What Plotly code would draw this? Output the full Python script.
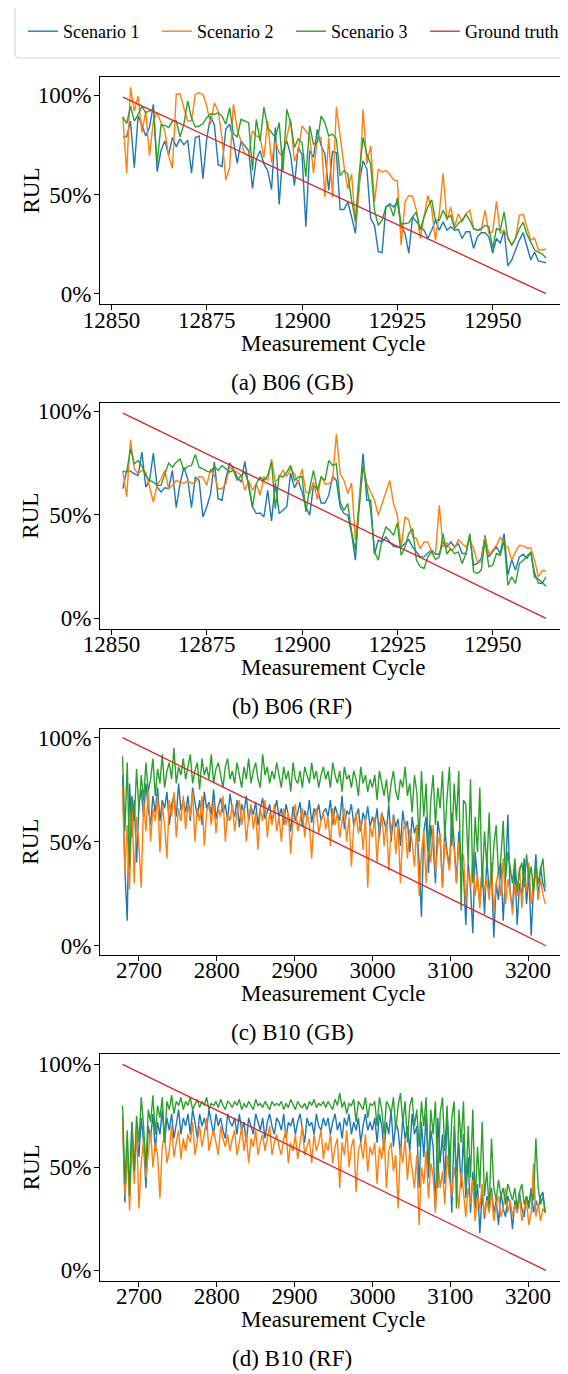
import plotly.graph_objects as go

# ---------------- data ----------------
b06_cycles = list(range(12853, 12965))
b10_cycles = list(range(2679, 3223, 3))

gt_b06_x = [12853, 12964]
gt_b06_y = [99.1, 0.0]
gt_b10_x = [2679, 3223]
gt_b10_y = [100.0, 0.0]

b06_gb_s1 = [79, 79, 87, 63.5, 89.5, 85, 79.5, 84, 95.4, 61.5, 72, 77, 70, 78.7, 74, 78, 75, 77.4, 60.7, 78.7,
             79.5, 58, 78, 89.5, 85, 65, 64, 83, 85.4, 77, 65.7, 77, 74.5, 72, 53, 67.8, 72, 65.4, 62, 52.4,
             83.7, 45, 72, 77, 70, 54.5, 73.7, 70, 33.7, 72, 68.7, 82.8, 74.5, 70.4, 52, 71.7, 71, 42.4, 42.4, 46.2,
             38.7, 30.4, 55.4, 67, 62.8, 37.9, 34.5, 21.2, 20.7, 43.7, 45.4, 43.7, 46.2, 33.7, 30.4, 20.4, 38.7, 36.2, 33.7, 32,
             27.8, 32, 37, 32, 36.2, 32, 33.7, 32, 32.3, 27.8, 31.2, 31.2, 22.8, 28.7, 30.7, 30.7, 28.7, 20.4, 27.8, 25.4,
             32, 14, 17, 22, 27, 30.7, 24, 17, 21, 16.5, 16, 15.5]
b06_gb_s2 = [89.2, 60.7, 104, 92, 99.5, 81.2, 92, 69.5, 87, 91.2, 86.2, 82, 69.5, 63.2, 100.4, 100.7, 93.7, 87, 87, 100.4,
             101.2, 100.4, 94.5, 85.4, 96.2, 92, 78.7, 57.3, 63.7, 95.4, 82.8, 77, 70.4, 69.5, 82, 79.5, 78.7, 68.7, 87, 66.2,
             77, 71, 68.7, 78.7, 87.9, 66.7, 72, 84.5, 82, 79.5, 60.7, 78, 78.7, 48.7, 78.7, 48.7, 94, 78, 64.5, 52.8,
             60.3, 35.4, 52.8, 92.9, 65.4, 74.5, 46.2, 62.8, 61.2, 62, 60.3, 57.3, 57, 24.5, 46.2, 49.5, 49, 42, 27.8, 38.7,
             49.5, 42.8, 27, 40.3, 60.7, 37, 43.7, 33.7, 40.3, 36.2, 40.3, 42, 32.8, 32, 32, 42, 30.4, 31.2, 46.5, 30.4,
             32, 28.7, 24.5, 27.8, 39.5, 40, 34, 27, 28, 22, 22, 22.5]
b06_gb_s3 = [89, 85.7, 94.5, 87, 90.3, 94.5, 91.2, 92, 92.9, 65.7, 85, 84.8, 83.7, 87, 87, 79, 85.4, 97, 88.7, 84,
             84.5, 85.7, 88.7, 90.7, 90.3, 91.2, 89.5, 85.4, 93.7, 80.4, 79, 87.9, 87, 86.2, 62, 87.9, 77, 94, 83.7, 81.2,
             78.7, 86.2, 62, 92.9, 86.2, 73.7, 78, 76, 59, 84.5, 75.4, 76.2, 89.5, 86.2, 79.5, 80.4, 78, 59.5, 62, 60.3,
             47, 37, 60.3, 78.7, 70.4, 65.4, 42, 34.5, 37, 43.7, 44.5, 39, 48.3, 35, 35.4, 35.7, 38.7, 41.2, 32, 38.7,
             43.7, 47.3, 37, 37, 42, 37.9, 39.5, 32.8, 35.4, 37, 40, 37, 32.8, 32, 32.8, 34.5, 33.7, 22.8, 32.8, 32,
             41.2, 27.8, 24.5, 27.8, 32.8, 36, 30, 26, 22, 21, 20, 18]

b06_rf_s1 = [62.6, 71.4, 71.1, 69.8, 69, 80.3, 63.4, 66.6, 79.8, 63.4, 61, 63, 62.6, 71.4, 53.5, 65, 73, 67.4, 53.5, 68.2,
             66.6, 49, 53.8, 60.2, 75.4, 57.8, 57, 67.4, 75, 72.2, 68.2, 65.8, 75.8, 63.4, 53.8, 50.6, 50.9, 49, 61.8, 47,
             65.3, 50.6, 52.2, 54, 70.1, 63, 66.6, 61, 53.8, 49.8, 64.2, 62.6, 55.7, 55.7, 59.4, 68.5, 66.6, 53.8, 50.6, 49.8,
             40.9, 28.1, 57, 79.5, 57, 57, 31, 37.7, 36.9, 39.3, 36.9, 34.8, 34.5, 34.5, 36.1, 38, 34.5, 32.1, 29.7, 29.7,
             31.6, 32.9, 31, 31, 36.9, 34.5, 36.9, 34.5, 36.1, 31.3, 31.3, 40.1, 25.7, 26.5, 28.9, 40.1, 29.7, 32.1, 34.5, 31.3,
             40.9, 20.9, 28.4, 23.3, 29.7, 31, 29, 32, 20, 19, 17, 15.5]
b06_rf_s2 = [71.1, 58.6, 86.2, 72.2, 69.8, 71.4, 70.6, 62.6, 56.2, 64.2, 67.4, 71.4, 62.6, 64.2, 66.6, 65.8, 65, 66.6, 65, 65.8,
             68.5, 68.2, 64.2, 72.2, 69, 62.6, 62.6, 65, 73, 71.4, 70.6, 69, 61.8, 66.6, 61.8, 65, 59.4, 68.2, 66.6, 76.9,
             65.8, 68.2, 71.4, 68.5, 72.2, 69.8, 65, 72.2, 61, 60.2, 65.8, 57.3, 68.5, 65, 65, 66.6, 89, 69.8, 66.6, 60.2,
             65.3, 37.7, 57, 73.8, 65, 61, 57, 49.8, 55.4, 61.8, 66.6, 55.4, 49.8, 34.5, 49, 47.4, 39.3, 38.5, 33.7, 36.9,
             36.9, 32.1, 31, 54.6, 34.5, 36.4, 32.9, 33.7, 38, 36.1, 34.5, 37.7, 33.7, 27.3, 27.3, 39.3, 30.5, 32.9, 35.3, 39.3,
             35.3, 34.5, 28.1, 32.1, 35.3, 35, 34, 34, 28, 20, 23, 23]
b06_rf_s3 = [71.1, 70.6, 81.9, 74.6, 76.2, 73.4, 69, 66.6, 65.8, 64.2, 64.2, 70.1, 75, 73, 75.4, 77, 71.4, 73.4, 73.8, 79.1,
             73, 72.2, 71.1, 70.6, 73.4, 71.4, 73.8, 72.2, 70.6, 71.4, 66.6, 69, 70.6, 65, 53.8, 65, 68.2, 66.6, 69, 75.4,
             53, 69, 68.2, 70.6, 73.8, 66.6, 68.2, 68.5, 51.4, 62.6, 71.4, 61.8, 68.2, 66.6, 76.2, 73.8, 74.6, 56.2, 52.2, 55.4,
             41.7, 32.9, 55.4, 73.8, 63.4, 52.2, 32.1, 28.1, 38.5, 44.1, 42.5, 40.1, 46.1, 30.5, 34.5, 40.9, 43.3, 28.1, 24.9, 24.1,
             29.7, 32.1, 28.4, 29.7, 40.9, 31, 33.7, 31.3, 32.1, 26.5, 31.3, 40.9, 22.5, 21.7, 23.3, 37.7, 24.9, 25.7, 31.3, 30.5,
             37.7, 16, 20.1, 16.9, 26.5, 28, 30, 32, 22, 17, 17, 20]

b10_gb_s1 = [82, 36, 12, 78, 52, 70, 40,
             68, 75, 62, 78, 66, 58, 72, 64, 76, 60, 70, 66, 74, 58, 68, 72, 62, 78, 65, 70,
             64, 72, 60, 76, 68, 62, 70, 58, 74, 66, 69, 63, 75, 61, 67, 71, 64, 68, 60, 73,
             66, 62, 70, 57, 68, 64, 72, 60, 67, 63, 69, 58, 66, 71, 61, 65, 68, 59, 64, 70,
             62, 66, 58, 68, 63, 55, 67, 60, 64, 69, 57, 65, 61, 70, 59, 66, 63, 68, 60, 64,
             66, 62, 70, 58, 67, 64, 60, 72, 56, 65, 63, 68, 58, 62, 66, 55, 64, 60, 67, 57,
             62, 58, 66, 52, 64, 60, 55, 68, 50, 63, 57, 61, 48, 65, 56, 60, 45, 62, 54, 58,
             40, 14, 55, 62, 35, 58, 48, 30, 60, 52, 28, 56, 45, 38, 64, 50, 30, 55, 42, 35,
             10, 40, 28, 6, 45, 32, 20, 38, 15, 42, 26, 35, 4, 30, 22, 40, 12, 34, 63, 25,
             18, 38, 10, 30, 24, 42, 20, 35, 5, 28, 44, 22, 38, 30, 26]
b10_gb_s2 = [76, 35, 58, 27, 72, 30, 62,
             48, 28, 70, 55, 75, 50, 66, 60, 72, 45, 68, 58, 42, 70, 62, 74, 52, 66, 60, 72,
             56, 68, 62, 74, 50, 66, 60, 72, 48, 64, 68, 58, 70, 54, 66, 62, 72, 50, 64, 60,
             68, 55, 64, 70, 58, 66, 50, 62, 68, 56, 64, 46, 66, 60, 70, 52, 64, 58, 68, 55,
             62, 50, 66, 58, 64, 44, 62, 68, 55, 60, 66, 52, 64, 58, 42, 62, 66, 54, 60, 64,
             56, 62, 48, 66, 58, 64, 52, 60, 66, 50, 62, 38, 58, 64, 54, 60, 46, 62, 28, 58,
             52, 62, 40, 58, 64, 48, 60, 36, 56, 62, 44, 58, 30, 54, 60, 42, 56, 50, 38, 58,
             24, 45, 55, 30, 52, 40, 58, 35, 48, 54, 28, 50, 42, 36, 55, 46, 30, 50, 38, 44,
             20, 36, 28, 42, 24, 34, 18, 38, 26, 32, 22, 40, 16, 30, 36, 24, 42, 20, 32, 26,
             15, 30, 24, 38, 18, 34, 26, 40, 20, 28, 36, 22, 32, 25, 20]
b10_gb_s3 = [91, 55, 88, 38, 72, 60, 85,
             65, 82, 70, 88, 74, 80, 90, 72, 85, 78, 92, 76, 84, 88, 80, 95, 78, 86, 82, 90,
             80, 86, 92, 78, 84, 88, 75, 90, 82, 86, 80, 92, 78, 85, 88, 82, 76, 86, 90, 80,
             84, 78, 88, 82, 76, 86, 80, 90, 78, 84, 88, 80, 76, 92, 82, 86, 78, 84, 80, 88,
             82, 76, 86, 80, 84, 74, 88, 80, 78, 84, 76, 86, 82, 78, 88, 80, 84, 76, 82, 86,
             80, 84, 76, 88, 82, 78, 84, 74, 86, 80, 82, 76, 84, 80, 72, 86, 78, 82, 74, 80,
             76, 82, 70, 84, 78, 72, 80, 68, 78, 84, 74, 70, 80, 76, 86, 72, 78, 64, 82, 74,
             50, 84, 62, 78, 45, 70, 82, 58, 76, 66, 84, 52, 72, 86, 48, 78, 60, 84, 17, 70,
             68, 40, 80, 30, 62, 45, 76, 28, 55, 38, 64, 30, 48, 58, 34, 42, 60, 32, 45, 38,
             30, 42, 26, 36, 40, 28, 44, 32, 38, 25, 40, 30, 36, 42, 28]

b10_rf_s1 = [75, 33, 60, 40, 72, 48, 68,
             55, 74, 62, 40, 70, 64, 76, 58, 72, 66, 78, 62, 74, 68, 76, 64, 72, 78, 66, 74,
             70, 76, 66, 78, 72, 64, 76, 70, 74, 68, 78, 72, 66, 76, 70, 74, 68, 64, 76, 72,
             70, 74, 66, 76, 68, 72, 62, 74, 70, 66, 76, 72, 68, 74, 64, 72, 76, 70, 66, 74,
             72, 68, 76, 64, 72, 70, 74, 66, 72, 76, 68, 62, 74, 70, 72, 66, 76, 70, 68, 74,
             70, 74, 66, 72, 76, 68, 72, 64, 74, 70, 76, 66, 72, 68, 74, 62, 70, 76, 68, 72,
             68, 74, 62, 76, 70, 58, 72, 66, 78, 60, 72, 68, 56, 74, 64, 70, 58, 76, 66, 70,
             40, 72, 55, 76, 45, 68, 60, 30, 74, 52, 66, 42, 75, 58, 28, 70, 48, 62, 40, 66,
             35, 55, 28, 48, 30, 42, 18, 38, 25, 36, 32, 40, 28, 34, 22, 38, 30, 26, 36, 32,
             20, 34, 28, 38, 30, 26, 36, 32, 40, 28, 34, 30, 36, 38, 28]
b10_rf_s2 = [74, 36, 58, 29, 62, 42, 70,
             30, 52, 64, 45, 58, 68, 50, 62, 56, 35, 60, 66, 52, 58, 70, 55, 62, 68, 54, 64,
             58, 66, 62, 72, 56, 64, 70, 60, 66, 74, 58, 64, 68, 62, 56, 70, 64, 60, 66, 58,
             64, 68, 56, 62, 70, 58, 66, 52, 64, 60, 68, 56, 62, 66, 58, 64, 70, 56, 62, 66,
             60, 56, 64, 68, 52, 62, 58, 66, 54, 62, 70, 56, 60, 64, 52, 66, 58, 62, 68, 54,
             62, 58, 66, 52, 60, 64, 40, 62, 56, 68, 50, 60, 64, 38, 58, 62, 54, 66, 48, 60,
             56, 62, 42, 60, 54, 66, 40, 58, 62, 48, 56, 30, 60, 52, 64, 44, 58, 50, 40, 56,
             22, 50, 42, 58, 35, 52, 46, 28, 54, 40, 48, 32, 56, 44, 36, 50, 42, 30, 48, 38,
             26, 40, 32, 44, 24, 36, 30, 42, 26, 34, 28, 38, 24, 32, 36, 26, 30, 40, 28, 34,
             26, 32, 28, 36, 24, 30, 34, 22, 28, 52, 26, 32, 24, 30, 28]
b10_rf_s3 = [80, 42, 68, 36, 72, 48, 75,
             62, 84, 70, 50, 78, 72, 85, 66, 80, 74, 84, 62, 82, 78, 85, 76, 82, 80, 84, 78,
             82, 80, 84, 78, 81, 83, 79, 82, 80, 84, 78, 81, 80, 82, 79, 83, 80, 78, 82, 81,
             79, 82, 80, 83, 78, 81, 79, 82, 80, 78, 83, 80, 81, 79, 82, 80, 78, 82, 80, 81,
             80, 82, 78, 81, 79, 83, 80, 78, 82, 80, 79, 81, 78, 82, 80, 83, 79, 81, 80, 82,
             79, 82, 80, 78, 83, 80, 86, 79, 82, 76, 81, 80, 83, 72, 82, 80, 78, 84, 74, 81,
             80, 82, 70, 84, 78, 66, 82, 80, 76, 84, 68, 80, 86, 72, 82, 62, 80, 84, 70, 78,
             60, 82, 70, 84, 50, 78, 66, 82, 40, 76, 84, 58, 80, 45, 74, 82, 30, 78, 62, 82,
             38, 70, 45, 78, 32, 60, 40, 72, 36, 48, 30, 64, 40, 34, 44, 36, 40, 32, 42, 38,
             34, 40, 30, 38, 42, 32, 36, 30, 38, 34, 64, 40, 32, 36, 28]

series_names = ["Scenario 1", "Scenario 2", "Scenario 3", "Ground truth"]
colors = ["#1f77b4", "#ff7f0e", "#2ca02c", "#d62728"]
captions = ["(a) B06 (GB)", "(b) B06 (RF)", "(c) B10 (GB)", "(d) B10 (RF)"]

panels = [
    (b06_cycles, [b06_gb_s1, b06_gb_s2, b06_gb_s3], gt_b06_x, gt_b06_y),
    (b06_cycles, [b06_rf_s1, b06_rf_s2, b06_rf_s3], gt_b06_x, gt_b06_y),
    (b10_cycles, [b10_gb_s1, b10_gb_s2, b10_gb_s3], gt_b10_x, gt_b10_y),
    (b10_cycles, [b10_rf_s1, b10_rf_s2, b10_rf_s3], gt_b10_x, gt_b10_y),
]

# ---------------- layout geometry ----------------
# The page body has an 8 px margin, so the figure is drawn 8 px smaller and
# all screen positions (measured on the reference) are shifted by 8 px.
OFF = 8
W, H = 568 - OFF, 1374 - OFF
FONT = "Liberation Serif"


def xp(p):
    return (p - OFF) / W


def yp(p):
    return 1 - (p - OFF) / H


frame_x = (100, 567)
frames_y = [(77, 304), (402.7, 628.7), (728.7, 954.7), (1054, 1280.7)]
x_ranges = [[12847.0, 12969.5], [12847.0, 12969.5], [2650, 3250], [2650, 3250]]
y_ranges = [[-5.2, 109.2], [-4.96, 104.1], [-4.3, 104.3], [-5.0, 105.0]]
x_ticks = [[12850, 12875, 12900, 12925, 12950]] * 2 + [[2700, 2800, 2900, 3000, 3100, 3200]] * 2

fig = go.Figure()
for i, (xs, ys_list, gx, gy) in enumerate(panels):
    ax = "" if i == 0 else str(i + 1)
    for j, ys in enumerate(ys_list):
        fig.add_trace(go.Scatter(
            x=xs, y=ys, mode="lines", name=series_names[j],
            line=dict(color=colors[j], width=1.4),
            xaxis="x" + ax, yaxis="y" + ax, showlegend=(i == 0)))
    fig.add_trace(go.Scatter(
        x=gx, y=gy, mode="lines", name=series_names[3],
        line=dict(color=colors[3], width=1.3),
        xaxis="x" + ax, yaxis="y" + ax, showlegend=(i == 0)))


def axis_common():
    return dict(showline=True, mirror=True, linecolor="black", linewidth=1,
                ticks="outside", ticklen=5, tickwidth=1, tickcolor="black",
                showgrid=False, zeroline=False,
                tickfont=dict(family=FONT, size=23, color="black"))


annotations = []
axes_layout = {}
for i in range(4):
    ax = "" if i == 0 else str(i + 1)
    top, bot = frames_y[i]
    axes_layout["xaxis" + ax] = dict(
        domain=[xp(frame_x[0]), xp(frame_x[1])], anchor="y" + ax,
        range=x_ranges[i], tickmode="array", tickvals=x_ticks[i],
        ticktext=[str(v) for v in x_ticks[i]], ticklabelstandoff=-10, **axis_common())
    axes_layout["yaxis" + ax] = dict(
        domain=[yp(bot), yp(top)], anchor="x" + ax,
        range=y_ranges[i], tickmode="array", tickvals=[0, 50, 100],
        ticktext=["0%", "50%", "100%"], ticklabelstandoff=-2, **axis_common())
    annotations.append(dict(text="Measurement Cycle", x=xp((frame_x[0] + frame_x[1]) / 2),
                            y=yp(bot + 39), xref="paper", yref="paper",
                            xanchor="center", yanchor="middle", showarrow=False,
                            font=dict(family=FONT, size=23, color="black")))
    annotations.append(dict(text="RUL", x=xp(31), y=yp((top + bot) / 2),
                            xref="paper", yref="paper", textangle=-90,
                            xanchor="center", yanchor="middle", showarrow=False,
                            font=dict(family=FONT, size=23, color="black")))
    annotations.append(dict(text=captions[i], x=xp(292), y=yp(bot + 78),
                            xref="paper", yref="paper", xanchor="center", yanchor="middle",
                            showarrow=False, font=dict(family=FONT, size=23, color="black")))

# rounded legend frame
x0, x1 = xp(15), xp(565)
y0, y1 = yp(58), yp(5)
rx, ry = 4 / W, 4 / H
path = (f"M{x0+rx},{y1} L{x1-rx},{y1} Q{x1},{y1} {x1},{y1-ry} L{x1},{y0+ry} "
        f"Q{x1},{y0} {x1-rx},{y0} L{x0+rx},{y0} Q{x0},{y0} {x0},{y0+ry} "
        f"L{x0},{y1-ry} Q{x0},{y1} {x0+rx},{y1} Z")

fig.update_layout(
    template="none",
    width=W, height=H, margin=dict(l=0, r=0, t=0, b=0, autoexpand=False),
    paper_bgcolor="white", plot_bgcolor="white",
    font=dict(family=FONT, color="black", size=18),
    annotations=annotations,
    shapes=[dict(type="path", path=path, xref="paper", yref="paper",
                 line=dict(color="#d0d0d0", width=1), fillcolor="rgba(0,0,0,0)")],
    legend=dict(orientation="h", x=xp(23), xanchor="left", y=yp(31.5), yanchor="middle",
                bgcolor="rgba(0,0,0,0)", borderwidth=0,
                font=dict(family=FONT, size=18, color="black"),
                entrywidth=89, entrywidthmode="pixels", tracegroupgap=0),
    **axes_layout,
)

fig.write_html("out.html")
